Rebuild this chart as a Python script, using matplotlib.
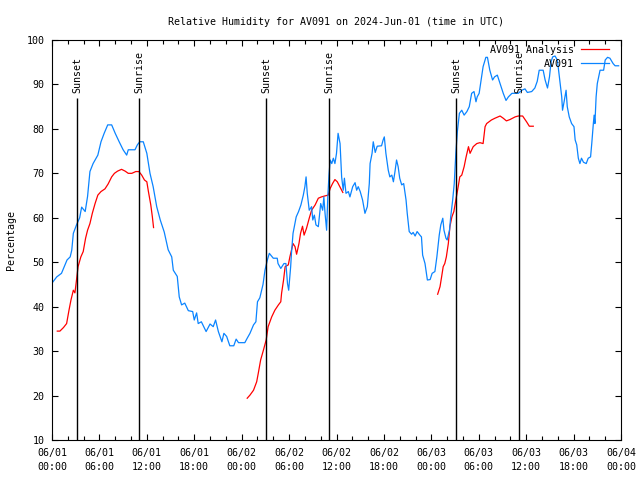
import matplotlib
matplotlib.use("Agg")
import matplotlib.pyplot as plt
import matplotlib.dates as mdates
import numpy as np
import pandas as pd

START = pd.Timestamp("2024-06-01 00:00")

# station obs (hours since 06/01 00:00, RH %)
obs_hours = [
    0.0, 0.6, 1.2, 1.9, 2.3, 2.5, 2.7, 3.1, 3.5, 3.75, 4.2, 4.5, 4.8, 5.2,
    5.8, 6.2, 6.6, 7.05, 7.55, 8.0, 8.5, 9.0, 9.45, 9.65, 10.5, 10.8, 11.1,
    11.55, 12.0, 12.4, 12.8, 13.25, 13.7, 14.2, 14.7, 15.15, 15.35, 15.85,
    16.1, 16.4, 16.8, 17.25, 17.8, 18.0, 18.3, 18.5, 18.9, 19.5, 20.0, 20.4,
    20.7, 21.05, 21.5, 21.75, 22.1, 22.5, 23.0, 23.3, 23.6, 24.4, 24.7,
    25.05, 25.5, 25.8, 26.0, 26.3, 26.7, 26.95, 27.25, 27.5, 28.0, 28.5,
    28.6, 28.95, 29.35, 29.6, 29.8, 29.95, 30.2, 30.3, 30.5, 30.9, 31.2,
    31.5, 31.8, 32.0, 32.15, 32.3, 32.55, 32.85, 33.0, 33.2, 33.4, 33.7,
    34.0, 34.25, 34.4, 34.55, 34.75, 34.9, 35.05, 35.2, 35.4, 35.6, 35.8,
    36.0, 36.2, 36.45, 36.65, 36.85, 37.0, 37.2, 37.5, 37.7, 38.05, 38.35,
    38.55, 38.75, 39.0, 39.3, 39.6, 39.9, 40.15, 40.25, 40.5, 40.65, 40.9,
    41.15, 41.7, 41.9, 42.05, 42.25, 42.55, 42.75, 43.0, 43.2, 43.4, 43.6,
    43.8, 44.0, 44.25, 44.5, 44.8, 44.95, 45.2, 45.5, 45.7, 45.95, 46.2,
    46.55, 46.75, 46.9, 47.2, 47.5, 47.85, 48.1, 48.45, 48.7, 49.0, 49.2,
    49.45, 49.6, 49.85, 50.0, 50.3, 50.45, 50.7, 50.9, 51.1, 51.3, 51.55,
    51.85, 52.15, 52.5, 52.8, 53.1, 53.4, 53.65, 53.8, 54.05, 54.3, 54.55,
    54.9, 55.1, 55.4, 55.75, 56.0, 56.35, 56.7, 57.1, 57.45, 57.75, 58.2,
    59.0, 59.45, 59.85, 60.15, 60.7, 61.1, 61.4, 61.65, 62.15, 62.4, 62.7,
    62.95, 63.15, 63.35, 63.65, 63.95, 64.2, 64.5, 64.6, 64.8, 65.05, 65.2,
    65.45, 65.75, 66.05, 66.2, 66.4, 66.6, 66.8, 67.0, 67.25, 67.6, 67.85,
    68.15, 68.3, 68.5, 68.6, 68.7, 68.85, 69.0, 69.35, 69.8, 70.0, 70.3,
    70.6, 71.0, 71.25, 71.7,
]
obs_rh = [
    45.3, 46.7, 47.5, 50.5, 51.2, 52.7, 56.5, 58.4, 60.0, 62.4, 61.4, 64.8,
    70.4, 72.2, 74.1, 77.1, 79.0, 80.9, 80.9, 79.0, 77.1, 75.3, 74.1, 75.3,
    75.3, 76.4, 77.1, 77.1, 74.5, 70.0, 67.0, 62.5, 59.5, 56.8, 52.8, 51.2,
    48.2, 46.8, 42.2, 40.4, 40.8, 39.1, 38.9, 37.0, 38.6, 36.2, 36.6, 34.4,
    36.1, 35.5, 37.0, 34.4, 32.1, 34.0, 33.3, 31.2, 31.2, 32.7, 31.9, 31.9,
    32.9, 34.0, 35.9, 36.6, 41.1, 42.0, 45.0, 48.2, 50.5, 52.0, 50.9, 50.9,
    49.7, 48.6, 49.7, 49.7, 45.2, 43.7, 49.0, 52.0, 56.5, 60.2, 61.4, 62.9,
    65.1, 67.0, 69.2, 65.5, 61.7, 62.5, 59.5, 60.6, 58.4, 58.0, 63.2, 61.7,
    64.7, 61.0, 57.2, 64.7, 69.6, 73.0, 72.2, 73.4, 72.2, 74.5, 79.0, 76.7,
    69.2, 66.2, 68.9, 65.5, 65.9, 64.7, 67.0, 67.9, 66.2, 67.0, 65.9, 64.0,
    61.0, 62.5, 67.7, 72.2, 74.5, 77.1, 74.7, 76.1, 76.2, 77.5, 78.2, 74.5,
    70.7, 69.2, 69.6, 68.1, 70.4, 73.0, 71.5, 68.9, 67.4, 67.7, 64.0, 61.0,
    56.9, 56.3, 56.7, 55.9, 56.9, 56.1, 55.7, 51.6, 49.7, 46.0, 46.1, 47.5,
    47.9, 51.2, 56.1, 58.4, 59.9, 57.2, 55.4, 55.0, 57.2, 60.2, 64.0, 67.7,
    74.5, 79.5, 83.5, 84.2, 83.1, 83.9, 85.0, 88.0, 88.4, 86.1, 87.2, 88.0,
    91.0, 94.0, 96.1, 96.1, 93.2, 91.0, 91.7, 92.1, 90.2, 88.0, 86.4, 87.2,
    88.0, 88.0, 88.7, 89.0, 88.2, 88.4, 89.2, 90.7, 93.2, 93.2, 91.0, 89.2,
    91.7, 95.1, 96.2, 96.4, 95.5, 91.7, 87.2, 84.2, 86.1, 88.7, 85.0, 82.7,
    81.2, 80.5, 77.5, 76.4, 73.4, 72.2, 73.4, 72.5, 72.2, 73.4, 73.7, 76.7,
    81.2, 83.1, 81.2, 87.2, 90.2, 93.2, 93.2, 95.5, 96.1, 95.9, 94.7, 94.2,
    94.2,
]

# analysis, three separate runs
ana1_hours = [
    0.67, 1.0, 1.45, 1.85, 2.15, 2.4, 2.7, 2.9, 3.1, 3.3, 3.65, 3.95, 4.25,
    4.5, 4.8, 5.1, 5.45, 5.8, 6.2, 6.7, 7.1, 7.55, 7.9, 8.3, 8.8, 9.25, 9.65,
    10.1, 10.6, 11.0, 11.35, 11.7, 12.0, 12.2, 12.5, 12.7, 12.85,
]
ana1_rh = [
    34.5, 34.5, 35.3, 36.2, 39.2, 41.5, 43.7, 43.1, 46.0, 49.0, 51.2, 52.4,
    55.4, 57.2, 58.7, 61.0, 63.2, 65.1, 65.9, 66.5, 67.6, 69.2, 70.0, 70.5,
    70.9, 70.5, 70.0, 70.0, 70.4, 70.4, 69.6, 68.5, 68.1, 65.9, 62.9, 60.2,
    57.8,
]
ana2_hours = [
    24.7, 25.05, 25.5, 25.9, 26.1, 26.4, 26.75, 27.1, 27.35, 27.8, 28.2,
    28.65, 28.95, 29.05, 29.3, 29.5, 29.9, 30.1, 30.3, 30.5, 30.75, 30.95,
    31.25, 31.45, 31.7, 31.9, 32.2, 32.55, 32.85, 33.3, 33.7, 34.1, 34.5,
    34.95, 35.2, 35.5, 35.8, 36.1, 36.45, 36.8,
]
ana2_rh = [
    19.4, 20.1, 21.2, 23.1, 25.0, 28.0, 30.2, 32.5, 35.5, 37.7, 39.2, 40.4,
    41.1, 43.0, 46.0, 49.0, 49.4, 51.2, 52.7, 54.2, 53.5, 51.8, 54.2, 56.5,
    58.1, 56.1, 57.6, 59.9, 61.7, 62.9, 64.4, 64.7, 64.9, 65.1, 66.6, 67.7,
    68.6, 68.1, 66.9, 65.7,
]
ana3_hours = [
    48.8, 49.1, 49.3, 49.5, 49.7, 49.9, 50.15, 50.35, 50.6, 50.85, 51.1,
    51.4, 51.6, 51.85, 52.15, 52.4, 52.7, 52.9, 53.3, 53.75, 54.15, 54.55,
    54.8, 55.0, 55.6, 56.05, 56.7, 57.1, 57.5, 57.95, 58.6, 59.0, 59.55,
    60.05, 60.4, 60.9,
]
ana3_rh = [
    42.8, 44.5, 46.7, 49.0, 49.7, 51.2, 54.2, 58.0, 60.2, 61.4, 64.0, 67.0,
    69.2, 69.6, 71.5, 73.7, 76.0, 74.5, 76.0, 76.7, 76.9, 76.7, 80.5, 81.2,
    82.0, 82.4, 82.9, 82.4, 81.8, 82.1, 82.7, 82.9, 82.9, 81.6, 80.6, 80.6,
]

sun_times = ["2024-06-01 03:10", "2024-06-01 11:00", "2024-06-02 03:05",
             "2024-06-02 11:03", "2024-06-03 03:07", "2024-06-03 11:05"]
sun_labels = ["Sunset", "Sunrise", "Sunset", "Sunrise", "Sunset", "Sunrise"]


def to_time(hours):
    return START + pd.to_timedelta(np.array(hours), unit="h")


def main():
    plt.rcParams["font.family"] = "DejaVu Sans Mono"
    plt.rcParams["font.size"] = 7.2

    fig = plt.figure(figsize=(6.4, 4.8), dpi=100)
    ax = fig.add_axes([52 / 640, 40 / 480, 569 / 640, 400 / 480])

    red = "#ff0000"
    blue = "#0a84ff"
    lw = 0.9

    h_ana, = ax.plot(to_time(ana1_hours), ana1_rh, color=red, lw=lw)
    ax.plot(to_time(ana2_hours), ana2_rh, color=red, lw=lw)
    ax.plot(to_time(ana3_hours), ana3_rh, color=red, lw=lw)
    h_obs, = ax.plot(to_time(obs_hours), obs_rh, color=blue, lw=lw)

    # sunrise / sunset markers
    for t, lab in zip(sun_times, sun_labels):
        t = pd.Timestamp(t)
        ax.vlines(t, 10, 87, color="black", lw=1.0, zorder=5)
        ax.text(t, 88, lab, rotation=90, ha="center", va="bottom")

    ax.set_xlim(START, START + pd.Timedelta(hours=72))
    ax.set_ylim(10, 100)
    ax.set_yticks(np.arange(10, 101, 10))

    ax.xaxis.set_major_locator(mdates.HourLocator(byhour=range(0, 24, 6)))
    ax.xaxis.set_minor_locator(mdates.HourLocator(interval=2))
    ax.xaxis.set_major_formatter(mdates.DateFormatter("%m/%d\n%H:%M"))
    for lbl in ax.get_xticklabels():
        lbl.set_linespacing(1.6)

    ax.tick_params(which="both", direction="in", top=True, right=True,
                   width=0.8)
    ax.tick_params(which="major", length=4.5, pad=5.5)
    ax.tick_params(which="minor", length=3)
    for s in ax.spines.values():
        s.set_linewidth(0.8)

    ax.set_title("Relative Humidity for AV091 on 2024-Jun-01 (time in UTC)",
                 fontsize=7.2, pad=11)
    ax.set_ylabel("Percentage")
    ax.yaxis.set_label_coords(-0.063, 0.5)

    ax.legend([h_ana, h_obs], ["AV091 Analysis", "AV091"], loc="upper right",
              bbox_to_anchor=(1 - 4 / 569, 1 + 3 / 400),
              frameon=False, markerfirst=False, handlelength=2.8,
              labelspacing=0.4, borderaxespad=0.4, handletextpad=0.7)

    fig.savefig("out.png", dpi=100)


if __name__ == "__main__":
    main()
